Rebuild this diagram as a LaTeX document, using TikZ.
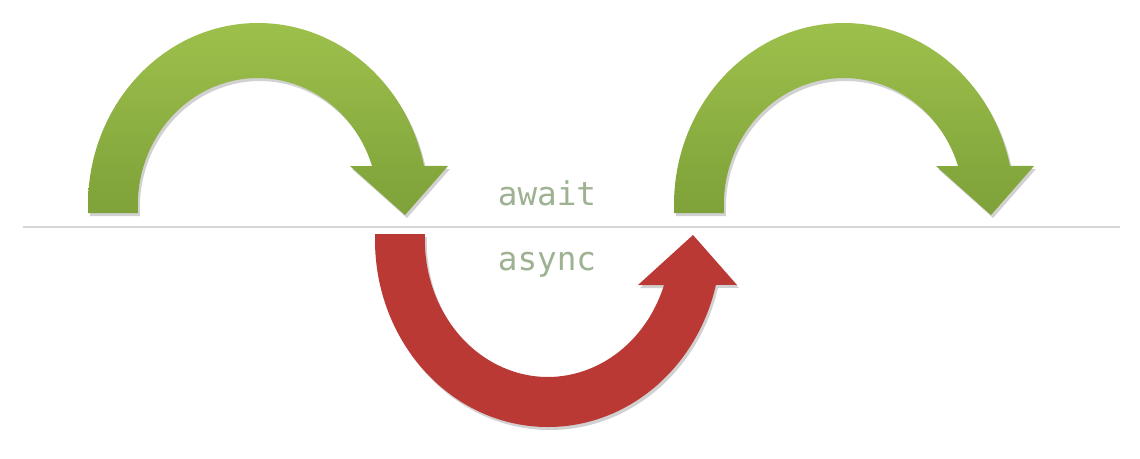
\documentclass[tikz,border=0pt]{standalone}
\usepackage{fontspec}
\newfontfamily\codefont{DejaVu Sans Mono}
\definecolor{greenTop}{RGB}{157,192,76}
\definecolor{greenBot}{RGB}{126,161,57}
\definecolor{arrowRed}{RGB}{187,57,52}
\definecolor{labelGray}{RGB}{158,178,146}
\definecolor{lineGray}{RGB}{214,214,214}
\tikzset{
  greenarrow/.style={top color=greenTop, bottom color=greenBot, draw=none},
  redarrow/.style={fill=arrowRed, draw=none},
  softshadow/.style={fill=black, opacity=0.18, draw=none},
  codelabel/.style={font=\codefont\fontsize{24.5}{29}\selectfont, text=labelGray, inner sep=0pt, anchor=base},
  baseline line/.style={draw=lineGray, line width=1.2pt}
}
\newcommand{\greenshape}{%
  (88,213) -- (88,205) arc[start angle=180, end angle=347.6, x radius=170, y radius=182]
  -- (448,166) -- (405,215) -- (350,166) -- (372,166)
  arc[start angle=342.1, end angle=180, x radius=120, y radius=127]
  -- (138,213) -- cycle}
\newcommand{\redshape}{%
  (375,234) -- (375,240) arc[start angle=180, end angle=13.9, x radius=173, y radius=187]
  -- (737,285) -- (693,235) -- (638,285) -- (664,285)
  arc[start angle=19.2, end angle=180, x radius=123, y radius=137]
  -- (425,234) -- cycle}
\begin{document}
\begin{tikzpicture}[x=0.75pt, y=-0.75pt]
  \useasboundingbox[fill=white] (0,0) rectangle (1140,458);
  % separator line
  \coordinate (lineL) at (23,227);
  \coordinate (lineR) at (1120,227);
  \draw[baseline line] (lineL) -- (lineR);
  % shadows
  \begin{scope}[shift={(2,3)}]
    \fill[softshadow] \greenshape;
    \fill[softshadow] \redshape;
    \begin{scope}[shift={(586,0)}]
      \fill[softshadow] \greenshape;
    \end{scope}
  \end{scope}
  % first green arrow
  \shade[greenarrow] \greenshape;
  % red arrow
  \fill[redarrow] \redshape;
  % second green arrow
  \begin{scope}[shift={(586,0)}]
    \shade[greenarrow] \greenshape;
  \end{scope}
  % labels
  \node[codelabel] (await) at (547,205) {await};
  \node[codelabel] (async) at (547,270) {async};
\end{tikzpicture}
\end{document}
